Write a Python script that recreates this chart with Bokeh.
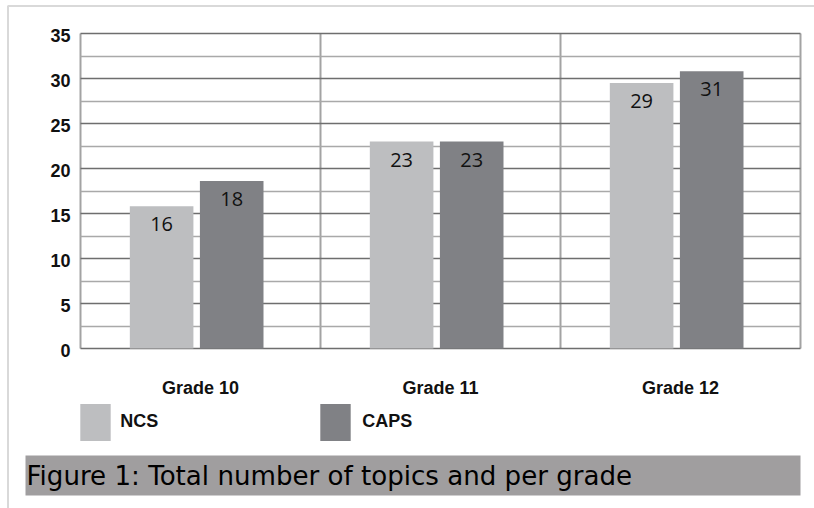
from bokeh.plotting import figure
from bokeh.models import Range1d, FixedTicker, Legend, LegendItem, Label, BoxAnnotation, Grid
from bokeh.core.properties import value
from bokeh.embed import file_html
from bokeh.resources import INLINE

# ---- data ----
categories = ["Grade 10", "Grade 11", "Grade 12"]
series = ["NCS", "CAPS"]
ncs_values = [15.8, 23.0, 29.5]
caps_values = [18.6, 23.0, 30.8]
ncs_labels = ["16", "23", "29"]
caps_labels = ["18", "23", "31"]
y_ticks = [0, 5, 10, 15, 20, 25, 30, 35]
y_minor_ticks = [2.5, 7.5, 12.5, 17.5, 22.5, 27.5, 32.5]
caption = "Figure 1: Total number of topics and per grade"

# ---- layout / styles ----
W, H = 814, 508
PL, PR, PT, PB = 80, 800, 33, 348          # plot area in pixels
NCS_COLOR = "#bdbec0"
CAPS_COLOR = "#808185"
BAR_W = 0.265
NCS_OFF, CAPS_OFF = -0.162, 0.13

n = len(categories)
ymax = y_ticks[-1]
kx = (PR - PL) / n
ky = (PB - PT) / ymax


def px2x(px):
    return (px - PL) / kx


def px2y(py):
    return (PB - py) / ky


centers = [i + 0.5 for i in range(n)]
ncs_x = [c + NCS_OFF for c in centers]
caps_x = [c + CAPS_OFF for c in centers]

p = figure(width=W, height=H,
           x_range=Range1d(px2x(0), px2x(W)), y_range=Range1d(px2y(H), px2y(0)),
           x_axis_type=None, y_axis_type=None,
           output_backend="svg", toolbar_location=None, min_border=0)
p.outline_line_color = None
p.background_fill_color = "white"
p.border_fill_color = "white"

# grids limited to the plot area
ygrid = Grid(dimension=1, ticker=FixedTicker(ticks=y_ticks, minor_ticks=y_minor_ticks),
             cross_bounds=(0, n), grid_line_color="#6e6e6e", grid_line_width=1.5,
             minor_grid_line_color="#a9a9a9", minor_grid_line_width=1.5)
xgrid = Grid(dimension=0, ticker=FixedTicker(ticks=list(range(n + 1))),
             cross_bounds=(0, ymax), grid_line_color="#a3a3a3", grid_line_width=2)
p.add_layout(xgrid)
p.add_layout(ygrid)

# bars
r_ncs = p.vbar(x=ncs_x, top=ncs_values, width=BAR_W, bottom=0, fill_color=NCS_COLOR, line_color=None)
r_caps = p.vbar(x=caps_x, top=caps_values, width=BAR_W, bottom=0, fill_color=CAPS_COLOR, line_color=None)

# value labels
for xs, ys, labs in ((ncs_x, ncs_values, ncs_labels), (caps_x, caps_values, caps_labels)):
    p.text(x=xs, y=ys, text=labs, text_align="center", text_baseline="middle",
           y_offset=18, text_font=value("Open Sans"), text_font_size="20px", text_color="#111111")

# y tick labels
p.text(x=[px2x(70)] * len(y_ticks), y=y_ticks, text=[str(t) for t in y_ticks],
       text_align="right", text_baseline="middle", y_offset=2,
       text_font=value("Liberation Sans"), text_font_style="bold", text_font_size="18px",
       text_color="#111111")

# category labels
p.text(x=centers, y=[0] * n, text=categories, text_align="center", text_baseline="middle",
       y_offset=39, text_font=value("Liberation Sans"), text_font_style="bold",
       text_font_size="18px", text_color="#111111")

# legends
common = dict(orientation="horizontal", glyph_width=38, glyph_height=46, padding=0, margin=0,
              border_line_color=None, background_fill_alpha=0,
              label_text_font="Liberation Sans", label_text_font_style="bold",
              label_text_font_size="18px", label_text_color="#111111")
leg1 = Legend(items=[LegendItem(label=series[0], renderers=[r_ncs])], location=(76.25, H - 444.5),
              label_standoff=6, **common)
leg2 = Legend(items=[LegendItem(label=series[1], renderers=[r_caps])], location=(316.25, H - 444.5),
              label_standoff=8, **common)
p.add_layout(leg1)
p.add_layout(leg2)

# outer frame lines (top and left)
frame = BoxAnnotation(left=px2x(7.5), right=px2x(W + 30), top=px2y(5.5), bottom=px2y(H + 30),
                      fill_alpha=0, line_color="#808080", line_width=2)
p.add_layout(frame)

# caption bar
cap_box = BoxAnnotation(left=px2x(25), right=px2x(800), top=px2y(455), bottom=px2y(495),
                        fill_color="#a09e9f", fill_alpha=1, line_color=None)
p.add_layout(cap_box)
cap_label = Label(x=px2x(26), y=px2y(475), text=caption,
                  text_font="DejaVu Sans", text_font_size="26.1px", text_color="#000000",
                  text_baseline="middle", text_align="left")
p.add_layout(cap_label)

open("out.html", "w").write(file_html(p, INLINE))
